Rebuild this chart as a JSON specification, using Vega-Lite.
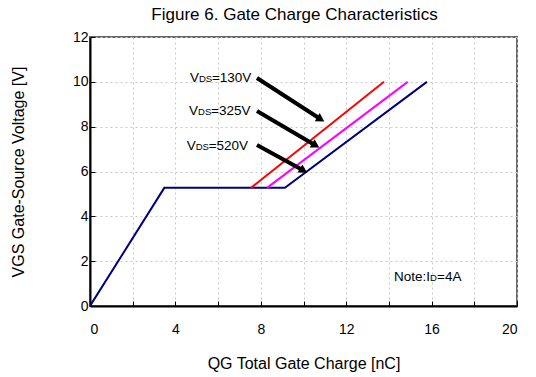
{
  "$schema": "https://vega.github.io/schema/vega-lite/v6.json",
  "width": 427,
  "height": 269,
  "autosize": {"type": "none"},
  "padding": {"left": 90, "top": 37, "right": 19, "bottom": 71},
  "background": "white",
  "title": {
    "text": "Figure 6. Gate Charge Characteristics",
    "font": "Liberation Sans",
    "fontSize": 17,
    "fontWeight": "normal",
    "color": "#000",
    "anchor": "middle",
    "dx": -9,
    "offset": 6
  },
  "config": {
    "font": "Liberation Sans",
    "view": {"stroke": "#666", "strokeWidth": 2},
    "axis": {
      "domainColor": "#000",
      "domainWidth": 2,
      "gridColor": "#c8c8c8",
      "gridDash": [2, 3],
      "gridWidth": 1,
      "tickColor": "#000",
      "tickWidth": 1,
      "labelFont": "Liberation Sans",
      "labelFontSize": 14,
      "labelColor": "#000",
      "titleFont": "Liberation Sans",
      "titleFontSize": 16,
      "titleFontWeight": "normal",
      "titleColor": "#000"
    }
  },
  "datasets": {
    "curves": [
      {"qg": 0, "vgs": 0, "vds": "520V"},
      {"qg": 3.48, "vgs": 5.27, "vds": "520V"},
      {"qg": 9.13, "vgs": 5.27, "vds": "520V"},
      {"qg": 15.78, "vgs": 10.0, "vds": "520V"},
      {"qg": 7.54, "vgs": 5.27, "vds": "130V"},
      {"qg": 13.77, "vgs": 10.0, "vds": "130V"},
      {"qg": 8.29, "vgs": 5.27, "vds": "325V"},
      {"qg": 14.88, "vgs": 10.0, "vds": "325V"}
    ],
    "arrows": [
      {"vds": "130V", "x0": 7.82, "y0": 10.17, "x1": 11.01, "y1": 8.21, "hx": 10.81, "hy": 8.33, "lx": 4.68, "ly": 10.17, "eq": "=130V"},
      {"vds": "325V", "x0": 7.82, "y0": 8.70, "x1": 10.77, "y1": 7.05, "hx": 10.57, "hy": 7.16, "lx": 4.64, "ly": 8.71, "eq": "=325V"},
      {"vds": "520V", "x0": 7.82, "y0": 7.18, "x1": 10.21, "y1": 5.93, "hx": 10.0, "hy": 6.04, "lx": 4.53, "ly": 7.14, "eq": "=520V"}
    ],
    "note": [
      {"x": 14.24, "y": 1.29, "a": "Note:I", "b": "D", "c": "=4A"}
    ]
  },
  "layer": [
    {
      "data": {"name": "curves"},
      "mark": {"type": "line", "strokeWidth": 2, "clip": true},
      "encoding": {
        "x": {
          "field": "qg", "type": "quantitative",
          "scale": {"domain": [0, 20], "nice": false},
          "axis": {
            "values": [0, 2, 4, 6, 8, 10, 12, 14, 16, 18, 20],
            "labelExpr": "datum.value % 4 === 0 ? datum.label : ''",
            "tickSize": -5,
            "labelPadding": 21,
            "title": "QG Total Gate Charge [nC]",
            "titlePadding": 19
          }
        },
        "y": {
          "field": "vgs", "type": "quantitative",
          "scale": {"domain": [0, 12], "nice": false},
          "axis": {
            "values": [0, 1, 2, 3, 4, 5, 6, 7, 8, 9, 10, 11, 12],
            "labelExpr": "datum.value % 2 === 0 ? datum.label : ''",
            "tickSize": -5,
            "labelPadding": 7,
            "title": "VGS Gate-Source Voltage [V]",
            "titlePadding": 46
          }
        },
        "color": {
          "field": "vds", "type": "nominal",
          "scale": {"domain": ["130V", "325V", "520V"], "range": ["#ff0000", "#ff00ff", "#000080"]},
          "legend": null
        }
      }
    },
    {
      "data": {"name": "arrows"},
      "mark": {"type": "rule", "color": "#000", "strokeWidth": 4},
      "encoding": {
        "x": {"field": "x0", "type": "quantitative"},
        "y": {"field": "y0", "type": "quantitative"},
        "x2": {"field": "hx"},
        "y2": {"field": "hy"}
      }
    },
    {
      "data": {"name": "arrows"},
      "mark": {"type": "point", "shape": "triangle-up", "filled": true, "color": "#000", "opacity": 1, "size": 90, "angle": 121},
      "encoding": {
        "x": {"field": "hx", "type": "quantitative"},
        "y": {"field": "hy", "type": "quantitative"}
      }
    },
    {
      "data": {"name": "arrows"},
      "mark": {"type": "text", "align": "left", "baseline": "middle", "fontSize": 13.5, "color": "#000"},
      "encoding": {
        "x": {"field": "lx", "type": "quantitative"},
        "y": {"field": "ly", "type": "quantitative"},
        "text": {"value": "V"}
      }
    },
    {
      "data": {"name": "arrows"},
      "mark": {"type": "text", "align": "left", "baseline": "middle", "fontSize": 9.5, "dx": 9, "dy": 1, "color": "#000"},
      "encoding": {
        "x": {"field": "lx", "type": "quantitative"},
        "y": {"field": "ly", "type": "quantitative"},
        "text": {"value": "DS"}
      }
    },
    {
      "data": {"name": "arrows"},
      "mark": {"type": "text", "align": "left", "baseline": "middle", "fontSize": 13.5, "dx": 22, "color": "#000"},
      "encoding": {
        "x": {"field": "lx", "type": "quantitative"},
        "y": {"field": "ly", "type": "quantitative"},
        "text": {"field": "eq"}
      }
    },
    {
      "data": {"name": "note"},
      "mark": {"type": "text", "align": "left", "baseline": "middle", "fontSize": 13.5, "color": "#000"},
      "encoding": {
        "x": {"field": "x", "type": "quantitative"},
        "y": {"field": "y", "type": "quantitative"},
        "text": {"field": "a"}
      }
    },
    {
      "data": {"name": "note"},
      "mark": {"type": "text", "align": "left", "baseline": "middle", "fontSize": 9.5, "dx": 36, "dy": 1, "color": "#000"},
      "encoding": {
        "x": {"field": "x", "type": "quantitative"},
        "y": {"field": "y", "type": "quantitative"},
        "text": {"field": "b"}
      }
    },
    {
      "data": {"name": "note"},
      "mark": {"type": "text", "align": "left", "baseline": "middle", "fontSize": 13.5, "dx": 43, "color": "#000"},
      "encoding": {
        "x": {"field": "x", "type": "quantitative"},
        "y": {"field": "y", "type": "quantitative"},
        "text": {"field": "c"}
      }
    }
  ]
}
